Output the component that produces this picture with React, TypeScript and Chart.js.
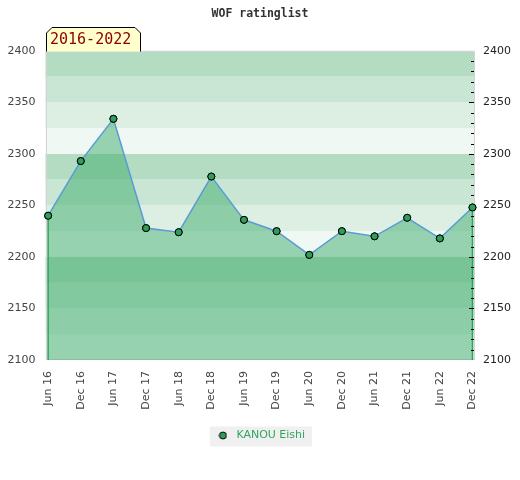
import React, { useEffect, useRef } from "react";
import { Chart, registerables } from "chart.js";

Chart.register(...registerables);

const CATEGORIES = [
  "Jun 16", "Dec 16", "Jun 17", "Dec 17", "Jun 18", "Dec 18", "Jun 19",
  "Dec 19", "Jun 20", "Dec 20", "Jun 21", "Dec 21", "Jun 22", "Dec 22",
];
const RATINGS = [2240, 2293, 2334, 2228, 2224, 2278, 2236, 2225, 2202, 2225, 2220, 2238, 2218, 2248];
const SERIES_NAME = "KANOU Eishi";
const TITLE = "WOF ratinglist";
const PERIOD_LABEL = "2016-2022";
const Y_MIN = 2100;
const Y_MAX = 2400;
const Y_STEP = 50;
const BAND_STEP = 25;
const MINOR_STEP = 10;

const BAND_COLORS = ["#eff8f2", "#dcefe2", "#c8e6d3", "#b3dcc3"];
const FILL_COLOR = "rgba(62,172,107,0.5)";
const LINE_COLOR = "#5b9bd5";
const POINT_COLOR = "#2e9e5a";
const EDGE_COLOR = "#2ca35a";
const LEGEND_TEXT_COLOR = "#33a65c";
const TICK_COLOR = "#444";

function makeMarker(): HTMLCanvasElement {
  const c = document.createElement("canvas");
  c.width = 9;
  c.height = 9;
  const g = c.getContext("2d")!;
  g.beginPath();
  g.arc(4.5, 4.5, 3.5, 0, Math.PI * 2);
  g.fillStyle = POINT_COLOR;
  g.fill();
  g.lineWidth = 1;
  g.strokeStyle = "#000";
  g.stroke();
  return c;
}

const decorPlugin = {
  id: "decor",
  beforeDraw(chart: any) {
    const { ctx, legend } = chart;
    if (!legend) return;
    ctx.save();
    ctx.font = '11px "DejaVu Sans"';
    const tw = ctx.measureText(SERIES_NAME).width;
    const itemW = 16 + 5.5 + tw;
    const itemX = (legend.left + legend.right - itemW) / 2;
    const itemTop = legend.top + 10;
    ctx.fillStyle = "#f0f0f0";
    ctx.fillRect(itemX - 5, itemTop - 3.5, itemW + 12, 20);
    ctx.restore();
  },
  beforeDatasetsDraw(chart: any) {
    const { ctx, chartArea } = chart;
    const y = chart.scales.y;
    ctx.save();
    for (let v = Y_MIN; v < Y_MAX; v += BAND_STEP) {
      const k = Math.round((v - Y_MIN) / BAND_STEP) % 4;
      const top = y.getPixelForValue(v + BAND_STEP);
      const bot = y.getPixelForValue(v);
      ctx.fillStyle = BAND_COLORS[k];
      ctx.fillRect(chartArea.left, top, chartArea.right - chartArea.left, bot - top);
    }
    ctx.strokeStyle = "#d4d4d4";
    ctx.lineWidth = 1;
    ctx.strokeRect(
      Math.round(chartArea.left) + 0.5,
      Math.round(chartArea.top) + 0.5,
      Math.round(chartArea.right) - Math.round(chartArea.left) - 1,
      Math.round(chartArea.bottom) - Math.round(chartArea.top) - 1
    );
    ctx.restore();
  },
  afterDatasetsDraw(chart: any) {
    const { ctx, chartArea } = chart;
    const meta = chart.getDatasetMeta(0);
    const pts = meta.data;
    const y = chart.scales.y;
    ctx.save();
    ctx.strokeStyle = EDGE_COLOR;
    ctx.lineWidth = 1.5;
    [pts[0], pts[pts.length - 1]].forEach((p: any) => {
      ctx.beginPath();
      ctx.moveTo(p.x, p.y + 3.5);
      ctx.lineTo(p.x, chartArea.bottom);
      ctx.stroke();
    });
    ctx.strokeStyle = "#000";
    ctx.lineWidth = 1;
    const r = Math.round(chartArea.right) - 1;
    for (let v = Y_MIN + MINOR_STEP; v < Y_MAX; v += MINOR_STEP) {
      const py = Math.round(y.getPixelForValue(v)) + 0.5;
      const len = v % Y_STEP === 0 ? 5 : 3;
      ctx.beginPath();
      ctx.moveTo(r - len, py);
      ctx.lineTo(r, py);
      ctx.stroke();
    }
    ctx.restore();
    meta.data.forEach((p: any) => p.draw(ctx, chartArea));
  },
  afterDraw(chart: any) {
    const { ctx, chartArea } = chart;
    const L = Math.round(chartArea.left) + 0.5;
    const B = Math.round(chartArea.top) + 0.5;
    const R = 140.5;
    const T = 27.5;
    const c = 5.5;
    ctx.save();
    ctx.beginPath();
    ctx.moveTo(L, B);
    ctx.lineTo(L, T + c);
    ctx.lineTo(L + c, T);
    ctx.lineTo(R - c, T);
    ctx.lineTo(R, T + c);
    ctx.lineTo(R, B);
    ctx.fillStyle = "#ffffcc";
    ctx.fill();
    ctx.strokeStyle = "#000";
    ctx.lineWidth = 1;
    ctx.stroke();
    ctx.fillStyle = "#8b0000";
    ctx.font = '15px "DejaVu Sans Mono"';
    ctx.textBaseline = "middle";
    ctx.textAlign = "left";
    ctx.fillText(PERIOD_LABEL, 50, 40);
    ctx.restore();
  },
};

const plainNumber = (v: any) => String(Math.round(Number(v)));

export default function App() {
  const ref = useRef<HTMLCanvasElement>(null);
  useEffect(() => {
    if (!ref.current) return;
    const marker = makeMarker();
    const chart = new Chart(ref.current, {
      type: "line",
      data: {
        datasets: [
          {
            label: SERIES_NAME,
            data: RATINGS.map((v, i) => ({ x: i, y: v })),
            borderColor: LINE_COLOR,
            borderWidth: 1.5,
            backgroundColor: FILL_COLOR,
            fill: "start",
            tension: 0,
            pointRadius: 3.5,
            pointBackgroundColor: POINT_COLOR,
            pointBorderColor: "#000",
            pointBorderWidth: 1,
            clip: false as any,
          },
        ],
      },
      options: {
        responsive: false,
        animation: false,
        layout: { padding: { left: 0, right: 0, top: 0, bottom: 29 } },
        scales: {
          x: {
            type: "linear",
            min: -0.08,
            max: 13.077,
            grid: { display: false, drawTicks: false },
            border: { display: false },
            afterBuildTicks: (s: any) => {
              s.ticks = CATEGORIES.map((_, i) => ({ value: i }));
            },
            afterFit: (s: any) => {
              s.height = 60;
            },
            ticks: {
              autoSkip: false,
              minRotation: 90,
              maxRotation: 90,
              padding: 11,
              color: TICK_COLOR,
              font: { family: '"DejaVu Sans"', size: 11 },
              callback: (v: any) => CATEGORIES[Math.round(Number(v))] ?? "",
            },
          },
          y: {
            position: "left",
            min: Y_MIN,
            max: Y_MAX,
            grid: { display: false, drawTicks: false },
            border: { display: false },
            afterFit: (s: any) => {
              s.width = 45.5;
            },
            ticks: {
              stepSize: Y_STEP,
              padding: 10,
              color: TICK_COLOR,
              font: { family: '"DejaVu Sans"', size: 11 },
              callback: plainNumber,
            },
          },
          y2: {
            position: "right",
            min: Y_MIN,
            max: Y_MAX,
            display: true,
            grid: { display: false, drawTicks: false },
            border: { display: false },
            afterFit: (s: any) => {
              s.width = 45;
            },
            ticks: {
              stepSize: Y_STEP,
              padding: 8,
              color: "#222",
              font: { family: '"DejaVu Sans"', size: 11 },
              callback: plainNumber,
            },
          },
        },
        plugins: {
          title: {
            display: true,
            text: TITLE,
            color: "#333",
            font: { family: '"DejaVu Sans Mono"', size: 11.5, weight: "bold" },
            padding: { top: 7, bottom: 30 },
          },
          legend: {
            display: true,
            position: "bottom",
            labels: {
              usePointStyle: true,
              pointStyleWidth: 16,
              padding: 10,
              font: { family: '"DejaVu Sans"', size: 11 },
              color: LEGEND_TEXT_COLOR,
              generateLabels: () => [
                {
                  text: SERIES_NAME,
                  fillStyle: POINT_COLOR,
                  strokeStyle: "#000",
                  lineWidth: 0,
                  pointStyle: marker as any,
                  fontColor: LEGEND_TEXT_COLOR,
                  hidden: false,
                  datasetIndex: 0,
                } as any,
              ],
            },
          },
          tooltip: { enabled: false },
        },
      },
      plugins: [decorPlugin],
    });
    return () => chart.destroy();
  }, []);
  return (
    <div style={{ position: "absolute", left: 0, top: 0, width: 520, height: 480, background: "#fff" }}>
      <canvas ref={ref} width={520} height={480} style={{ display: "block" }} />
    </div>
  );
}
